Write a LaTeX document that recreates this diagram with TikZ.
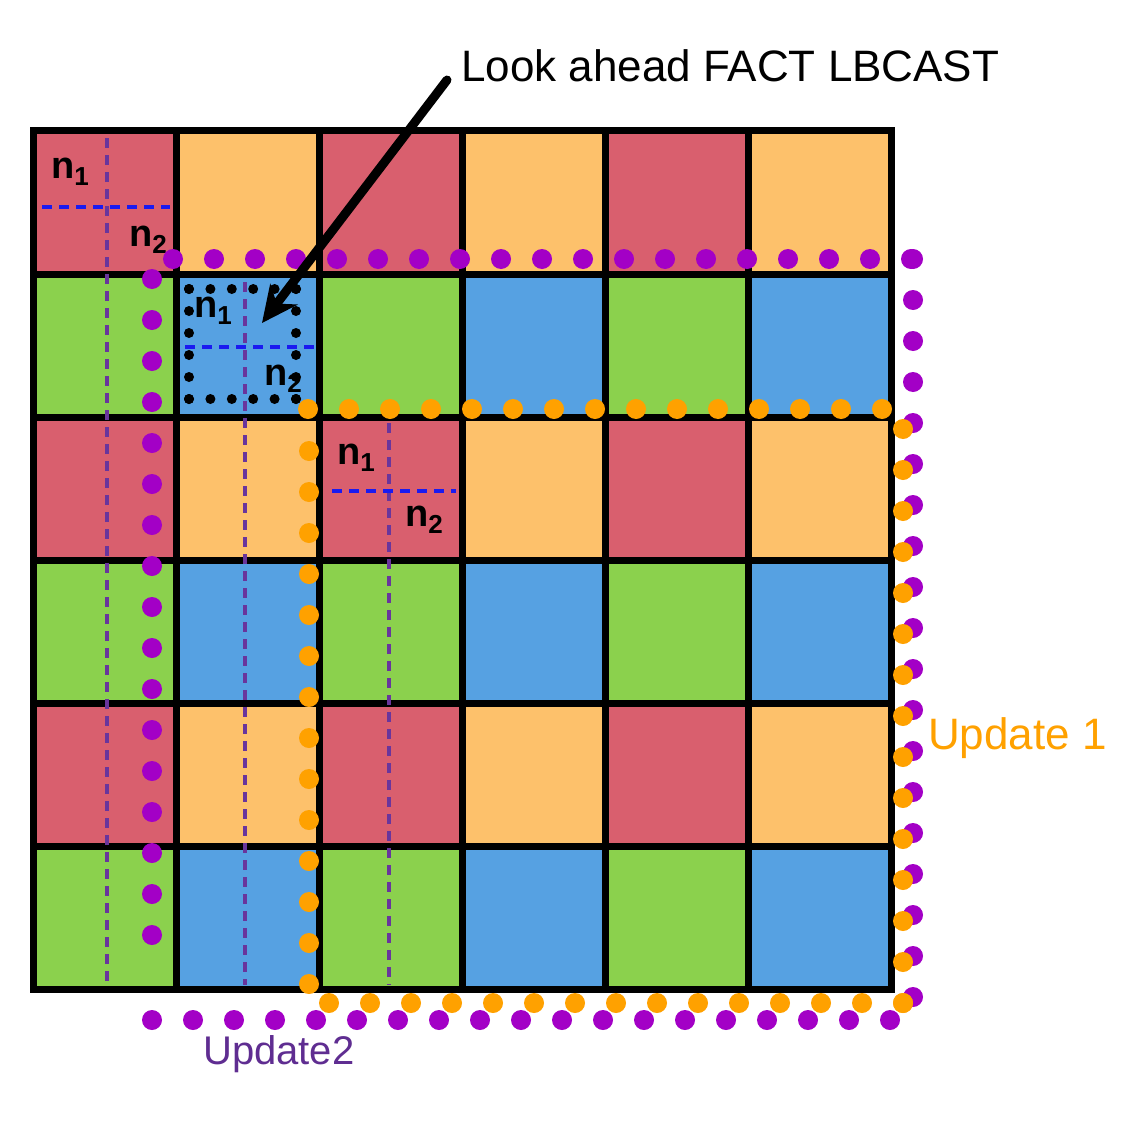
\documentclass[tikz,border=0pt]{standalone}
\usepackage{fontspec}
\setmainfont{Liberation Sans}
\usetikzlibrary{arrows.meta}
\definecolor{cred}{HTML}{D95F6E}
\definecolor{corange}{HTML}{FDC16B}
\definecolor{cgreen}{HTML}{8BD14D}
\definecolor{cblue}{HTML}{56A1E2}
\definecolor{pdotc}{HTML}{A300C6}
\definecolor{odotc}{HTML}{FFA100}
\definecolor{pdash}{HTML}{69359C}
\definecolor{bdash}{HTML}{1A1AF0}
\definecolor{ptext}{HTML}{5F2D91}
\newcommand\nlab[1]{\bfseries{\fontsize{38}{38}\selectfont n}{\fontsize{26}{26}\selectfont\raisebox{-7pt}{#1}}}
\begin{document}
\begin{tikzpicture}[x=1pt,y=-1pt,
  cell/.style={draw=black,line width=7pt,minimum size=143pt,inner sep=0pt},
  pvline/.style={draw=pdash,line width=3.6pt,dash pattern=on 10pt off 7pt},
  bhline/.style={draw=bdash,line width=3.6pt,dash pattern=on 10pt off 7pt},
  lab/.style={inner sep=0pt,text=black},
  pdot/.style={fill=pdotc},
  odot/.style={fill=odotc},
  kdot/.style={fill=black}]
\useasboundingbox (0,0) rectangle (1137,1121);
\fill[white] (0,0) rectangle (1137,1121);
% grid cells
\foreach \r in {1,...,6}{\foreach \c in {1,...,6}{
  \ifodd\r \ifodd\c \def\cc{cred}\else\def\cc{corange}\fi
  \else \ifodd\c \def\cc{cgreen}\else\def\cc{cblue}\fi\fi
  \node[cell,fill=\cc] (c\r\c) at ({104.5+143*(\c-1)},{202.5+143*(\r-1)}) {};
}}
% dashed split lines
\coordinate (v1a) at (107,138); \coordinate (v1b) at (107,985);
\coordinate (v2a) at (245,282); \coordinate (v2b) at (245,985);
\coordinate (v3a) at (389,423); \coordinate (v3b) at (389,985);
\draw[pvline] (v1a) -- (v1b);
\draw[pvline] (v2a) -- (v2b);
\draw[pvline] (v3a) -- (v3b);
\coordinate (h1a) at (42,207); \coordinate (h1b) at (170,207);
\coordinate (h2a) at (185,347); \coordinate (h2b) at (314,347);
\coordinate (h3a) at (332,491); \coordinate (h3b) at (456,491);
\draw[bhline] (h1a) -- (h1b);
\draw[bhline] (h2a) -- (h2b);
\draw[bhline] (h3a) -- (h3b);
% labels
\node[lab] (n11) at (70,172) {\nlab{1}};
\node[lab] (n12) at (148,240) {\nlab{2}};
\node[lab] (n21) at (213,311) {\nlab{1}};
\node[lab] (n22) at (283,379) {\nlab{2}};
\node[lab] (n31) at (356,458) {\nlab{1}};
\node[lab] (n32) at (424,520) {\nlab{2}};
% purple dots (update 2)
\foreach \i in {0,...,18} \fill[pdot] ({173+41*\i},259) circle (10pt);
\foreach \i in {0,...,16} \fill[pdot] (152,{279+41*\i}) circle (10pt);
\foreach \i in {0,...,18} \fill[pdot] ({152+41*\i},1020) circle (10pt);
\foreach \i in {0,...,18} \fill[pdot] (913,{259+41*\i}) circle (10pt);
% orange dots (update 1)
\foreach \i in {0,...,14} \fill[odot] ({308+41*\i},409) circle (10pt);
\foreach \i in {0,...,13} \fill[odot] (309,{451+41*\i}) circle (10pt);
\foreach \i in {0,...,14} \fill[odot] ({329+41*\i},1003) circle (10pt);
\foreach \i in {0,...,14} \fill[odot] (903,{429+41*\i}) circle (10pt);
% black dotted look-ahead box
\foreach \i in {0,...,5}{
  \fill[kdot] ({189+21.4*\i},289) circle (5pt);
  \fill[kdot] ({189+21.4*\i},399) circle (5pt);
  \fill[kdot] (189,{289+22*\i}) circle (5pt);
  \fill[kdot] (296,{289+22*\i}) circle (5pt);
}
% title and arrow
\node[anchor=west,inner sep=0pt,font=\fontsize{44}{44}\selectfont] (title) at (461,66) {Look ahead FACT LBCAST};
\coordinate (astart) at (447,80);
\coordinate (atip) at (262,323);
\draw[line width=9pt,line cap=round,-{Stealth[length=36pt,width=34pt]}] (astart) -- (atip);
% update labels
\node[anchor=west,inner sep=0pt,text=odotc,font=\fontsize{44}{44}\selectfont] (u1) at (928,738) {Update 1};
\node[anchor=west,inner sep=0pt,text=ptext,font=\fontsize{40}{40}\selectfont] (u2) at (203,1054) {Update2};
\end{tikzpicture}
\end{document}
